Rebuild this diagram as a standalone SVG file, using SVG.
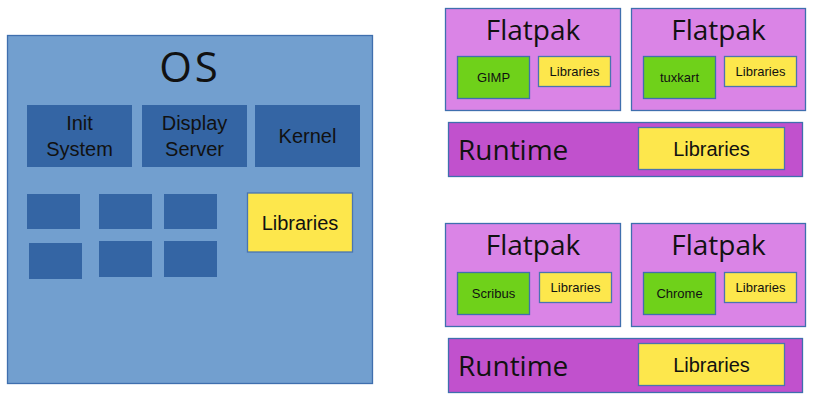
<svg xmlns="http://www.w3.org/2000/svg" width="816" height="402" viewBox="0 0 816 402">
<style>
.os{fill:#729fcf;stroke:#3f6fae;stroke-width:1.3}
.dk{fill:#3465a4}
.lib{fill:#fde74c;stroke:#4a74b0;stroke-width:1.3}
.fp{fill:#da84e6;stroke:#3f6fae;stroke-width:1.3}
.rt{fill:#c151cd;stroke:#3f6fae;stroke-width:1.3}
.gr{fill:#6fd11a;stroke:#3f6fae;stroke-width:1.3}
.h{font-family:"Open Sans","Noto Sans",sans-serif;fill:#111}
.t{font-family:"Liberation Sans",Arial,sans-serif;fill:#111;text-anchor:middle}
</style>
<rect width="816" height="402" fill="#fff"/>
<g id="os">
<rect class="os" x="7.5" y="35.5" width="365" height="348"/>
<text class="h" x="190" y="82" font-size="42" text-anchor="middle" letter-spacing="3">OS</text>
</g>
<g id="init"><rect class="dk" x="27" y="105" width="105" height="62"/><text class="t" x="79.5" y="130" font-size="20">Init</text><text class="t" x="79.5" y="156" font-size="20">System</text></g>
<g id="display"><rect class="dk" x="142" y="105" width="105" height="62"/><text class="t" x="194.5" y="130" font-size="20">Display</text><text class="t" x="194.5" y="156" font-size="20">Server</text></g>
<g id="kernel"><rect class="dk" x="255" y="105" width="105" height="62"/><text class="t" x="307.5" y="143" font-size="20">Kernel</text></g>
<g id="b1"><rect class="dk" x="27" y="194" width="53" height="35"/></g>
<g id="b2"><rect class="dk" x="99" y="194" width="53" height="35"/></g>
<g id="b3"><rect class="dk" x="164" y="194" width="53" height="35"/></g>
<g id="b4"><rect class="dk" x="29" y="243" width="53" height="36"/></g>
<g id="b5"><rect class="dk" x="99" y="241" width="53" height="36"/></g>
<g id="b6"><rect class="dk" x="164" y="241" width="53" height="36"/></g>
<g id="oslib"><rect class="lib" x="247.5" y="193" width="105" height="59"/><text class="t" x="300" y="230" font-size="20">Libraries</text></g>

<g id="fp1">
<rect class="fp" x="445.5" y="8.5" width="175" height="102"/>
<text class="h" x="533" y="40" font-size="28" text-anchor="middle">Flatpak</text>
<rect class="gr" x="457.5" y="56.5" width="72" height="42"/><text class="t" x="493.5" y="82" font-size="13">GIMP</text>
<rect class="lib" x="538.5" y="56.5" width="72" height="30"/><text class="t" x="574.5" y="76" font-size="13">Libraries</text>
</g>
<g id="fp2">
<rect class="fp" x="631.5" y="8.5" width="174" height="102"/>
<text class="h" x="718.5" y="40" font-size="28" text-anchor="middle">Flatpak</text>
<rect class="gr" x="643.5" y="56.5" width="72" height="42"/><text class="t" x="679.5" y="82" font-size="13">tuxkart</text>
<rect class="lib" x="724.5" y="56.5" width="72" height="30"/><text class="t" x="760.5" y="76" font-size="13">Libraries</text>
</g>
<g id="rt1">
<rect class="rt" x="448.5" y="122.5" width="354" height="54"/>
<text class="h" x="458" y="160" font-size="28">Runtime</text>
<rect class="lib" x="638.5" y="127.5" width="146" height="42"/><text class="t" x="711.5" y="156" font-size="20">Libraries</text>
</g>
<g id="fp3">
<rect class="fp" x="445.5" y="223.5" width="175" height="103"/>
<text class="h" x="533" y="255" font-size="28" text-anchor="middle">Flatpak</text>
<rect class="gr" x="457.5" y="272.5" width="72" height="42"/><text class="t" x="493.5" y="298" font-size="13">Scribus</text>
<rect class="lib" x="539.5" y="272.5" width="72" height="30"/><text class="t" x="575.5" y="292" font-size="13">Libraries</text>
</g>
<g id="fp4">
<rect class="fp" x="631.5" y="223.5" width="174" height="103"/>
<text class="h" x="718.5" y="255" font-size="28" text-anchor="middle">Flatpak</text>
<rect class="gr" x="643.5" y="272.5" width="72" height="42"/><text class="t" x="679.5" y="298" font-size="13">Chrome</text>
<rect class="lib" x="724.5" y="272.5" width="72" height="30"/><text class="t" x="760.5" y="292" font-size="13">Libraries</text>
</g>
<g id="rt2">
<rect class="rt" x="448.5" y="338.5" width="354" height="54"/>
<text class="h" x="458" y="376" font-size="28">Runtime</text>
<rect class="lib" x="638.5" y="343.5" width="146" height="42"/><text class="t" x="711.5" y="372" font-size="20">Libraries</text>
</g>
<g id="connectors"></g>
</svg>
